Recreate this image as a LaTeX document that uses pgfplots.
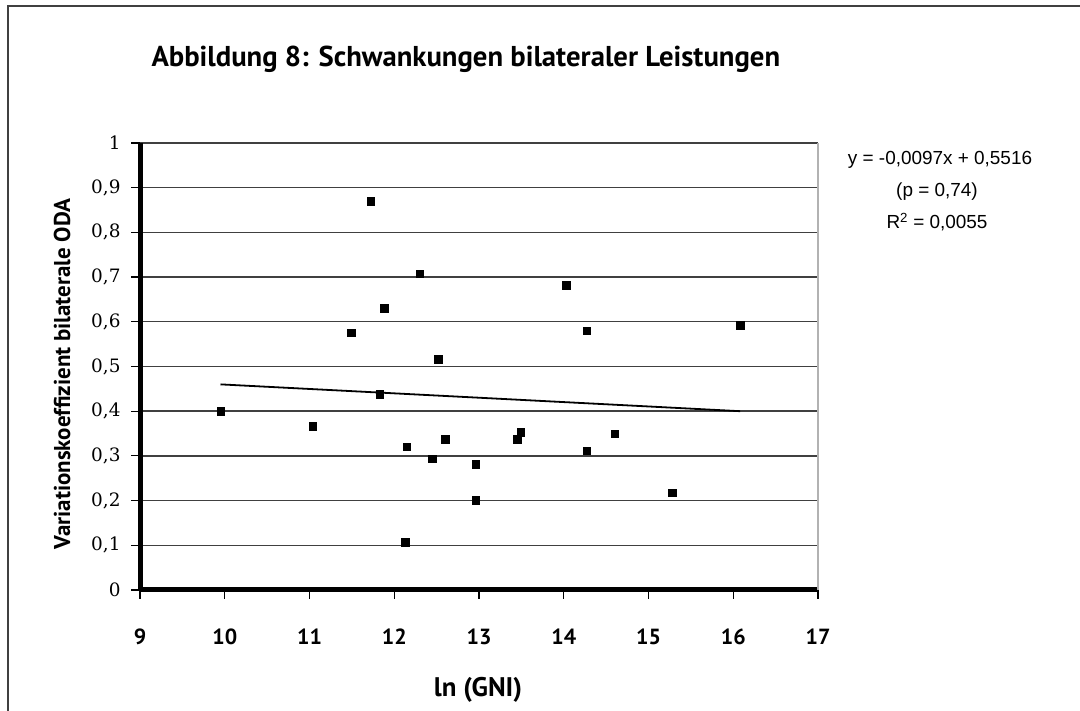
\documentclass[border=0pt]{standalone}
\usepackage{pgfplots}
\pgfplotsset{compat=1.18}
\usepackage{fontspec}
\newfontfamily\ptsans{PT Sans}
\newfontfamily\arial{Liberation Sans}
\newfontfamily\dvserif{DejaVu Serif}
\newcommand\ylab[1]{{\dvserif\fontsize{18.5}{18.5}\selectfont #1}}
\pgfplotstableread{
x y
9.95 0.400
11.04 0.366
11.49 0.576
11.72 0.870
11.83 0.438
11.88 0.630
12.13 0.107
12.15 0.320
12.30 0.707
12.45 0.294
12.52 0.516
12.60 0.337
12.96 0.281
12.96 0.201
13.45 0.337
13.49 0.353
14.03 0.682
14.27 0.580
14.27 0.311
14.60 0.350
15.28 0.218
16.08 0.592
}\datatable
\begin{document}
\begin{tikzpicture}[x=1bp,y=1bp]
\useasboundingbox (0,0) rectangle (1080,711);
\draw[black!75, line width=1.5bp] (8,0) -- (8,705) -- (1080,705);
\node[font=\ptsans\bfseries\fontsize{28.8}{29}\selectfont, anchor=base west] at (148,711-67) {Abbildung 8: Schwankungen bilateraler Leistungen};
\node[font=\ptsans\bfseries\fontsize{23}{23}\selectfont, rotate=90] at (62,711-374) {Variationskoeffizient bilaterale ODA};
\node[font=\ptsans\bfseries\fontsize{27}{27}\selectfont] at (478,711-690) {ln (GNI)};
\node[font=\arial\fontsize{19}{19}\selectfont] at (940,711-160) {y = -0,0097x + 0,5516};
\node[font=\arial\fontsize{19}{19}\selectfont] at (937,711-192) {(p = 0,74)};
\node[font=\arial\fontsize{19}{19}\selectfont] at (937,711-222) {R\textsuperscript{2} = 0,0055};
\begin{axis}[
  at={(140bp,121bp)}, anchor=south west,
  width=678bp, height=447bp, scale only axis,
  xmin=9, xmax=17, ymin=0, ymax=1,
  xtick={9,10,...,17},
  ytick={0,0.1,0.2,0.3,0.4,0.5,0.6,0.7,0.8,0.9,1},
  yticklabels={\ylab{0},\ylab{0,1},\ylab{0,2},\ylab{0,3},\ylab{0,4},\ylab{0,5},\ylab{0,6},\ylab{0,7},\ylab{0,8},\ylab{0,9},\ylab{1}},
  axis x line*=bottom, axis y line*=left,
  axis line style={line width=5bp, black, -},
  ymajorgrids,
  grid style={black!75, line width=1.4bp},
  tick align=outside,
  major tick length=9bp,
  tick style={black, line width=1.2bp},
  /pgf/number format/assume math mode=true,
  xticklabel style={font=\ptsans\bfseries\fontsize{22}{22}\selectfont, yshift=-26bp},
  yticklabel style={xshift=-7bp},
  clip=false,
]
\draw[black!30, line width=1.5bp] (rel axis cs:1,0) -- (rel axis cs:1,1);
\addplot[only marks, mark=square*, mark size=3.7bp, black] table[x=x,y=y]{\datatable};
\addplot[black, line width=1.8bp] coordinates {(9.95,0.46) (16.08,0.40)};
\end{axis}
\end{tikzpicture}
\end{document}
